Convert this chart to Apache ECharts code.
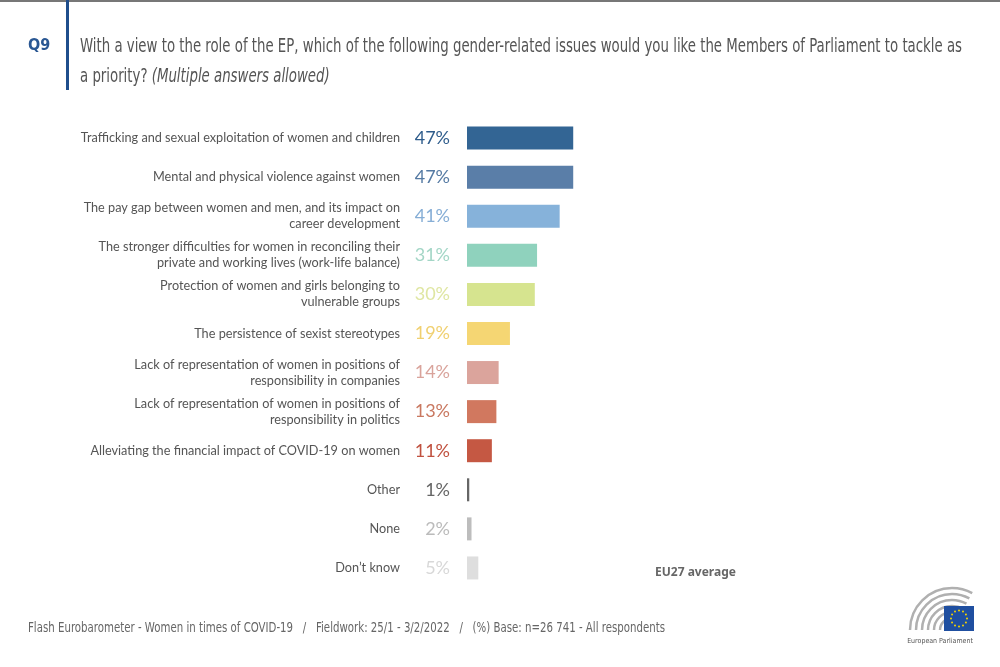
<!DOCTYPE html>
<html><head><meta charset="utf-8">
<script src="https://cdn.jsdelivr.net/npm/echarts@6/dist/echarts.min.js"></script>
<style>html,body{margin:0;padding:0;background:#fff}#c{width:1000px;height:667px}</style>
</head><body><div id="c"></div>
<script>
const categories = [
  "Trafficking and sexual exploitation of women and children",
  "Mental and physical violence against women",
  "The pay gap between women and men, and its impact on\ncareer development",
  "The stronger difficulties for women in reconciling their\nprivate and working lives (work-life balance)",
  "Protection of women and girls belonging to\nvulnerable groups",
  "The persistence of sexist stereotypes",
  "Lack of representation of women in positions of\nresponsibility in companies",
  "Lack of representation of women in positions of\nresponsibility in politics",
  "Alleviating the financial impact of COVID-19 on women",
  "Other",
  "None",
  "Don\u2019t know"
];
const values = [47, 47, 41, 31, 30, 19, 14, 13, 11, 1, 2, 5];
const barColors = ["#336594","#5a7ea8","#86b2da","#8fd2bd","#d6e48f","#f5d673","#dba49c","#d1785f","#c55843","#666666","#bdbdbd","#dedede"];
const labelColors = ["#2f5d8c","#557aa3","#86aed6","#a3d6c6","#dfe6a2","#f0d070","#d9a39b","#c97860","#c0513f","#666666","#bbbbbb","#d8d8d8"];

const titleLine1 = "With a view to the role of the EP, which of the following gender-related issues would you like the Members of Parliament to tackle as";
const titleLine2a = "a priority? ";
const titleLine2b = "(Multiple answers allowed)";
const footer = "Flash Eurobarometer - Women in times of COVID-19   /   Fieldwork: 25/1 - 3/2/2022   /   (%) Base: n=26 741 - All respondents";

const condensed = '"Liberation Sans Narrow","DejaVu Sans Condensed",sans-serif';
function measure(text, font){ const c=document.createElement('canvas').getContext('2d'); c.font=font; return c.measureText(text).width; }
const titleFont = '20px ' + condensed;
const titleScale = 882 / measure(titleLine1, titleFont);
const footFont = '14px ' + condensed;
const footScale = 637 / measure(footer, footFont);

const chart = echarts.init(document.getElementById('c'));
const graphics = [
  {type:'rect', shape:{x:0,y:0,width:1000,height:2}, style:{fill:'#777'}},
  {type:'rect', shape:{x:66,y:0,width:3,height:90}, style:{fill:'#1f4e8c'}},
  {type:'text', x:28, y:46, style:{text:'Q9', font:'bold 16px ' + condensed, fill:'#2a5793', verticalAlign:'middle'}},
  {type:'text', x:80, y:47, scaleX:titleScale, style:{text:titleLine1, font:titleFont, fill:'#555', verticalAlign:'middle'}},
  {type:'text', x:80, y:77, scaleX:titleScale, style:{
    text:'{a|' + titleLine2a + '}{b|' + titleLine2b + '}', verticalAlign:'middle', fill:'#555',
    rich:{a:{fontFamily:condensed,fontSize:20,fill:'#555',color:'#555'}, b:{fontFamily:condensed,fontSize:20,fontStyle:'italic',fill:'#555',color:'#555'}}}},
  {type:'text', x:655, y:573, style:{text:'EU27 average', font:'bold 12px "Noto Sans",sans-serif', fill:'#666', verticalAlign:'middle'}},
  {type:'text', x:28, y:628, scaleX:footScale, style:{text:footer, font:footFont, fill:'#666', verticalAlign:'middle'}}
];
// logo
[12,18,24,30,36,42].forEach(function(r){
  graphics.push({type:'arc', shape:{cx:952, cy:630, r:r, startAngle:Math.PI, endAngle:Math.PI*1.66, clockwise:true}, style:{stroke:'#b0b0b0', lineWidth:2.5, fill:null}});
});
graphics.push({type:'rect', shape:{x:944,y:606,width:30,height:25}, style:{fill:'#1f4fa0'}});
for (let i=0;i<12;i++){ const a=i*Math.PI/6; graphics.push({type:'circle', shape:{cx:959+8*Math.cos(a), cy:618.5+8*Math.sin(a), r:1}, style:{fill:'#f5d400'}}); }
graphics.push({type:'text', x:940, y:641, style:{text:'European Parliament', font:'7px ' + condensed, fill:'#555', align:'center', verticalAlign:'middle'}});

chart.setOption({
  animation:false,
  grid:{left:467, top:118.5, width:226, height:469},
  xAxis:{type:'value', min:0, max:100, show:false},
  yAxis:{type:'category', data:categories, inverse:true,
    axisLine:{show:false}, axisTick:{show:false},
    axisLabel:{margin:67, fontFamily:'Lato', fontSize:12.7, color:'#555', lineHeight:16, align:'right'}},
  series:[{type:'bar', barWidth:23, silent:true,
    data: values.map(function(v,i){ return {value:v, itemStyle:{color:barColors[i]}, label:{color:labelColors[i]}}; }),
    label:{show:true, position:'left', distance:17, formatter:'{c}%', fontFamily:'Lato', fontSize:18}
  }],
  graphic: graphics
});
</script></body></html>
